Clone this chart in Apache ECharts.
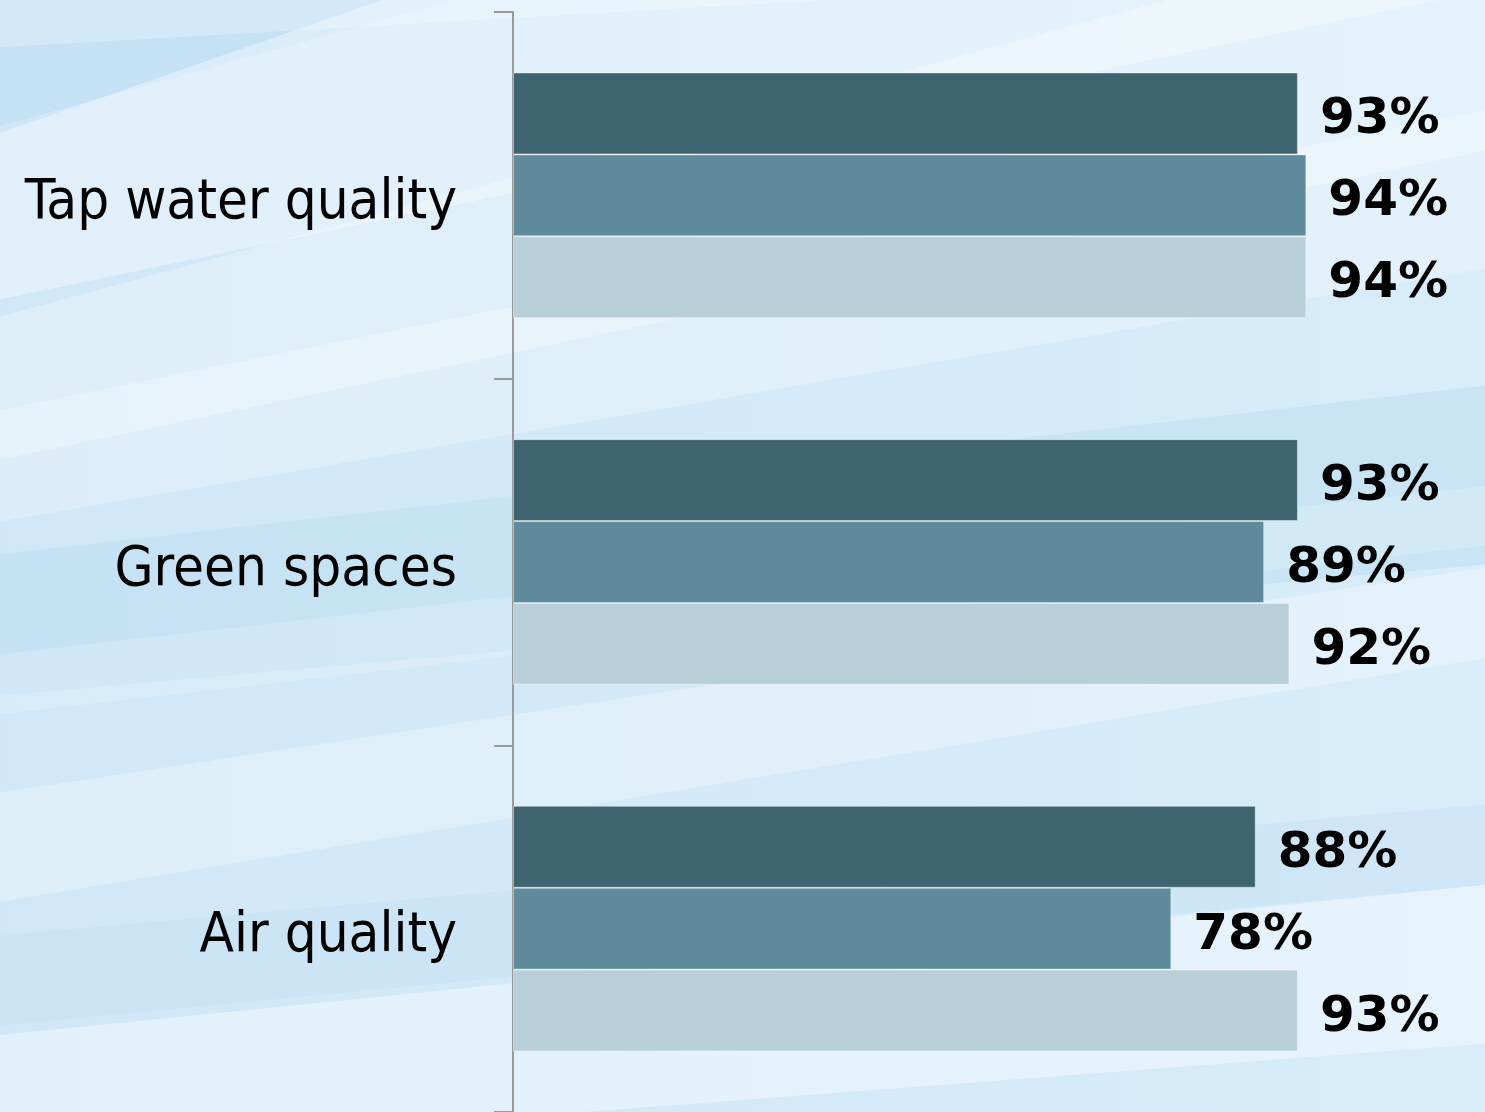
<!DOCTYPE html>
<html>
<head>
<meta charset="utf-8">
<script src="https://cdn.jsdelivr.net/npm/echarts@6/dist/echarts.min.js"></script>
<style>
html,body{margin:0;padding:0;width:1485px;height:1112px;overflow:hidden;}
#main{width:1485px;height:1112px;}
</style>
</head>
<body>
<div id="main"></div>
<script>
var categories = ['Tap water quality', 'Green spaces', 'Air quality'];
var seriesNames = ['Series 1', 'Series 2', 'Series 3'];
var darkValues = [93, 93, 88];
var mediumValues = [94, 89, 78];
var lightValues = [94, 92, 93];
var seriesColors = ['#3e6470', '#5d8b9c', '#b8cfda'];

var W = 1485, H = 1112;
function band(y1, y2, w1, w2, color) {
  return {
    type: 'polygon', silent: true, z: -10,
    shape: { points: [[-50, y1], [W + 50, y2], [W + 50, y2 + w2], [-50, y1 + w1]] },
    style: { fill: color }
  };
}
var bg = [
  { type: 'rect', silent: true, z: -20, shape: { x: 0, y: 0, width: W, height: H },
    style: { fill: new echarts.graphic.LinearGradient(0, 0, 1, 0, [
      { offset: 0, color: '#cfe7f7' },
      { offset: 1, color: '#d8ecf9' }
    ]) } },
  band(-60, -700, 200, 400, 'rgba(190,222,243,0.6)'),
  band(150, -400, 160, 380, 'rgba(255,255,255,0.35)'),
  band(330, -100, 140, 240, 'rgba(255,255,255,0.3)'),
  band(560, 380, 140, 180, 'rgba(190,222,243,0.55)'),
  band(420, 100, 110, 160, 'rgba(255,255,255,0.28)'),
  band(800, 560, 110, 90, 'rgba(255,255,255,0.3)'),
  band(940, 800, 90, 80, 'rgba(195,225,244,0.45)'),
  band(1040, 880, 120, 160, 'rgba(255,255,255,0.38)'),
  band(660, 480, 60, 60, 'rgba(255,255,255,0.18)'),
  band(-40, -160, 90, 120, 'rgba(255,255,255,0.25)')
];

var option = {
  animation: false,
  graphic: bg,
  grid: { left: 513, right: 128, top: 12, bottom: -3, containLabel: false },
  xAxis: {
    type: 'value', min: 0, max: 100, show: false,
    splitLine: { show: false }
  },
  yAxis: {
    type: 'category',
    data: categories,
    inverse: true,
    axisLine: { show: true, lineStyle: { color: '#9a9a9a', width: 2 } },
    axisTick: { show: true, length: 19, lineStyle: { color: '#9a9a9a', width: 2 } },
    axisLabel: {
      margin: 56,
      formatter: function (v) { return '{t|' + v + '}'; },
      rich: {
        t: {
          padding: [16, 0, 0, 0],
          fontFamily: '"DejaVu Sans Condensed", "DejaVu Sans", sans-serif',
          fontSize: 56,
          color: '#000'
        }
      },
      fontFamily: '"DejaVu Sans Condensed", "DejaVu Sans", sans-serif',
      fontSize: 56,
      color: '#000'
    },
    splitLine: { show: false }
  },
  series: [darkValues, mediumValues, lightValues].map(function (vals, i) {
    return {
      name: seriesNames[i],
      type: 'bar',
      data: vals,
      barGap: '0%',
      barCategoryGap: '33%',
      itemStyle: { color: seriesColors[i], borderColor: 'rgba(255,255,255,0.4)', borderWidth: 1 },
      label: {
        show: true,
        position: 'right',
        distance: 22,
        offset: [0, 7],
        formatter: '{c}%',
        fontFamily: '"DejaVu Sans", sans-serif',
        fontWeight: 'bold',
        fontSize: 50,
        color: '#000'
      }
    };
  })
};
var chart = echarts.init(document.getElementById('main'));
chart.setOption(option);
</script>
</body>
</html>
